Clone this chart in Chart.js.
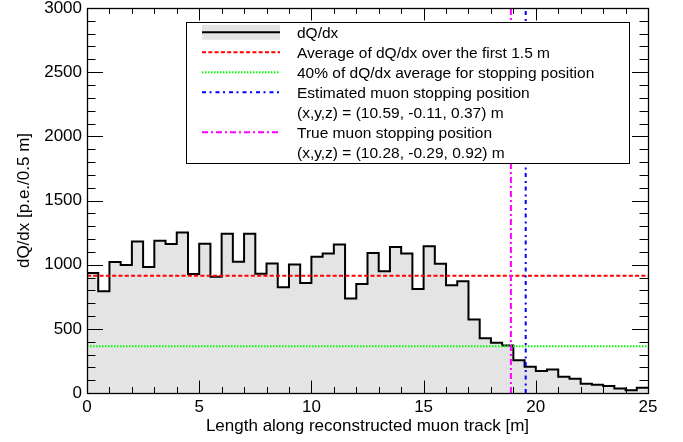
<!DOCTYPE html>
<html>
<head>
<meta charset="utf-8">
<script src="https://cdn.jsdelivr.net/npm/chart.js@4"></script>
<style>
  html, body { margin: 0; padding: 0; background: #fff; }
  #wrap { width: 683px; height: 442px; }
</style>
</head>
<body>
<div id="wrap"><canvas id="c" width="683" height="442"></canvas></div>
<script>
// ---- data ----
const binEdges = [0, 0.5, 1, 1.5, 2, 2.5, 3, 3.5, 4, 4.5, 5, 5.5, 6, 6.5, 7, 7.5, 8, 8.5, 9, 9.5,
  10, 10.5, 11, 11.5, 12, 12.5, 13, 13.5, 14, 14.5, 15, 15.5, 16, 16.5, 17, 17.5, 18, 18.5, 19, 19.5,
  20, 20.5, 21, 21.5, 22, 22.5, 23, 23.5, 24, 24.5, 25];
const dQdx = [935, 793, 1020, 997, 1181, 982, 1186, 1161, 1251, 928,
  1163, 905, 1241, 1023, 1241, 930, 1010, 824, 1002, 857,
  1062, 1087, 1158, 736, 849, 1090, 948, 1137, 1087, 811,
  1143, 1008, 839, 870, 573, 427, 391, 371, 256, 205,
  171, 184, 127, 112, 72, 64, 54, 36, 21, 41];
const averageFirst15m = 913;
const stoppingThreshold = 365;
const estimatedStop = 19.55;
const trueStop = 18.89;
const xRange = [0, 25];
const yRange = [0, 3000];
const xTickStep = 5, yTickStep = 500;
const legendLabels = [
  "dQ/dx",
  "Average of dQ/dx over the first 1.5 m",
  "40% of dQ/dx average for stopping position",
  "Estimated muon stopping position",
  "(x,y,z) = (10.59, -0.11, 0.37) m",
  "True muon stopping position",
  "(x,y,z) = (10.28, -0.29, 0.92) m"
];
const xTitle = "Length along reconstructed muon track [m]";
const yTitle = "dQ/dx [p.e./0.5 m]";

// ---- build ----
const histPoints = dQdx.map((v, i) => ({ x: binEdges[i], y: v }));
histPoints.push({ x: binEdges[binEdges.length - 1], y: dQdx[dQdx.length - 1] });

const FONT = "'Liberation Sans', Arial, Helvetica, sans-serif";
Chart.defaults.color = '#000';
Chart.defaults.font.family = FONT;

const styles = {
  red:     { color: '#ff0000', dash: [4, 2.3] },
  green:   { color: '#00ff00', dash: [1.5, 1.5] },
  blue:    { color: '#0000ff', dash: [4, 3.5, 2, 4] },
  magenta: { color: '#ff00ff', dash: [6, 3, 2, 3] }
};

const framePlugin = {
  id: 'rootFrame',
  afterDraw(chart) {
    const { ctx, chartArea: a, scales: { x, y } } = chart;
    ctx.save();
    ctx.setLineDash([]);
    ctx.strokeStyle = '#000';
    ctx.lineWidth = 1;
    ctx.beginPath();
    for (let v = x.min; v <= x.max + 1e-9; v += 1) {
      const px = Math.round(x.getPixelForValue(v)) + 0.5;
      const major = Math.abs(v / xTickStep - Math.round(v / xTickStep)) < 1e-9;
      const len = major ? 12.5 : 6;
      ctx.moveTo(px, a.bottom); ctx.lineTo(px, a.bottom - len);
      ctx.moveTo(px, a.top); ctx.lineTo(px, a.top + len);
    }
    for (let v = y.min; v <= y.max + 1e-9; v += 100) {
      const py = Math.round(y.getPixelForValue(v)) + 0.5;
      const major = Math.abs(v / yTickStep - Math.round(v / yTickStep)) < 1e-9;
      const len = major ? 16 : 8.5;
      ctx.moveTo(a.left, py); ctx.lineTo(a.left + len, py);
      ctx.moveTo(a.right, py); ctx.lineTo(a.right - len, py);
    }
    ctx.stroke();
    ctx.lineWidth = 1.3;
    ctx.strokeRect(Math.round(a.left) + 0.5, Math.round(a.top) + 0.5,
                   Math.round(a.right - a.left), Math.round(a.bottom - a.top));

    // legend box (opaque, covers the vertical markers like the original)
    const W = a.right - a.left, H = a.bottom - a.top;
    const bx = Math.round(a.left + 0.176 * W), by = Math.round(a.top + 0.037 * H);
    const bw = Math.round(0.79 * W), bh = Math.round(0.366 * H);
    ctx.fillStyle = '#ffffff';
    ctx.fillRect(bx, by, bw, bh);
    ctx.lineWidth = 1;
    ctx.strokeStyle = '#000';
    ctx.strokeRect(bx + 0.5, by + 0.5, bw, bh);

    const sx0 = bx + 16, sx1 = bx + 94, tx = bx + 111;
    const row0 = by + 10.3, rowH = 20;
    ctx.fillStyle = '#e4e4e4';
    ctx.fillRect(sx0, row0 - 7.5, sx1 - sx0, 15);
    ctx.strokeStyle = '#000'; ctx.lineWidth = 2;
    ctx.beginPath(); ctx.moveTo(sx0, row0); ctx.lineTo(sx1, row0); ctx.stroke();
    const samples = [[1, styles.red], [2, styles.green], [3, styles.blue], [5, styles.magenta]];
    samples.forEach(([r, s]) => {
      ctx.strokeStyle = s.color; ctx.lineWidth = 2; ctx.setLineDash(s.dash);
      ctx.beginPath(); ctx.moveTo(sx0, row0 + r * rowH); ctx.lineTo(sx1, row0 + r * rowH); ctx.stroke();
    });
    ctx.setLineDash([]);
    ctx.fillStyle = '#000';
    ctx.font = '15.5px ' + FONT;
    ctx.textBaseline = 'middle';
    ctx.textAlign = 'left';
    legendLabels.forEach((t, i) => ctx.fillText(t, tx, row0 + i * rowH + 1));
    ctx.restore();
  }
};

function lineDs(label, pts, s, order) {
  return { label, data: pts, borderColor: s.color, borderDash: s.dash, borderWidth: 2,
           pointRadius: 0, fill: false, order, tension: 0 };
}

new Chart(document.getElementById('c'), {
  type: 'line',
  data: {
    datasets: [
      { label: legendLabels[0], data: histPoints, stepped: true, borderColor: '#000', borderWidth: 2,
        backgroundColor: '#e4e4e4', fill: 'origin', pointRadius: 0, order: 10 },
      lineDs(legendLabels[1], [{ x: xRange[0], y: averageFirst15m }, { x: xRange[1], y: averageFirst15m }], styles.red, 4),
      lineDs(legendLabels[2], [{ x: xRange[0], y: stoppingThreshold }, { x: xRange[1], y: stoppingThreshold }], styles.green, 3),
      lineDs(legendLabels[3], [{ x: estimatedStop, y: yRange[0] }, { x: estimatedStop, y: yRange[1] }], styles.blue, 2),
      lineDs(legendLabels[5], [{ x: trueStop, y: yRange[0] }, { x: trueStop, y: yRange[1] }], styles.magenta, 1)
    ]
  },
  options: {
    responsive: false,
    animation: false,
    devicePixelRatio: 1,
    layout: { padding: { top: 8, right: 35, left: 0, bottom: 0 } },
    plugins: { legend: { display: false }, tooltip: { enabled: false } },
    scales: {
      x: {
        type: 'linear', min: xRange[0], max: xRange[1],
        grid: { display: false, drawTicks: false }, border: { display: false },
        ticks: { stepSize: xTickStep, padding: 4, maxRotation: 0, font: { size: 17 }, color: '#000',
                 callback: v => String(v) },
        title: { display: true, text: xTitle, font: { size: 17 }, color: '#000', padding: { top: 0, bottom: 5 } },
        afterFit(s) { s.height = 49; s.paddingLeft = 0; s.paddingRight = 0; }
      },
      y: {
        type: 'linear', min: yRange[0], max: yRange[1],
        grid: { display: false, drawTicks: false }, border: { display: false },
        ticks: { stepSize: yTickStep, padding: 5, font: { size: 17 }, color: '#000',
                 callback: v => String(v) },
        title: { display: true, text: yTitle, font: { size: 17 }, color: '#000', padding: { top: 14, bottom: 0 } },
        afterFit(s) { s.width = 87; s.paddingTop = 0; s.paddingBottom = 0; }
      }
    }
  },
  plugins: [framePlugin]
});
</script>
</body>
</html>
